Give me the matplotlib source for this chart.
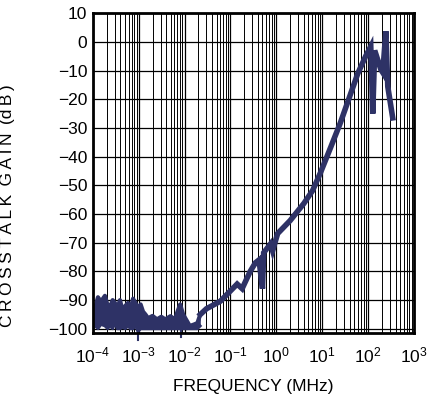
import matplotlib
matplotlib.use("Agg")
import matplotlib.pyplot as plt
from matplotlib.ticker import LogLocator, NullFormatter

plt.rcParams['font.family'] = ['Liberation Sans', 'DejaVu Sans']

NAVY = '#2e3266'

# noise floor band (top / bottom envelope)
freq_noise = [1.0e-4, 1.15e-4, 1.29e-4, 1.5e-4, 1.83e-4, 2.1e-4, 2.36e-4, 2.7e-4, 3.03e-4, 3.4e-4,
              3.9e-4, 4.5e-4, 5.1e-4, 5.8e-4, 6.6e-4, 7.5e-4, 8.5e-4, 9.6e-4, 1.1e-3, 1.24e-3,
              1.4e-3, 1.6e-3, 2.0e-3, 2.5e-3, 3.1e-3, 3.8e-3, 4.9e-3, 6.2e-3, 7.0e-3, 8.0e-3,
              9.3e-3, 1.1e-2, 1.3e-2, 1.6e-2, 1.9e-2, 2.2e-2]
noise_top = [-93.9, -92, -89, -90.5, -88.5, -92, -92.5, -90, -91, -93,
             -90, -94, -92, -91, -93.5, -89.5, -91, -92.8, -91.5, -94,
             -95, -96.3, -95.5, -96.7, -95.8, -96.7, -95.6, -96.7, -94, -91.5,
             -95, -97, -99, -98.5, -98, -95]
noise_bot = [-100, -99, -100, -98.5, -99, -100, -99, -100, -98, -100,
             -100, -99.5, -100, -99, -100, -100, -99, -101, -100, -100,
             -100, -100, -100, -100, -100, -100, -100, -100, -100, -100,
             -100, -100, -100, -100, -100, -99]
# downward spikes below the band
spike_freq = [9.6e-4, 8.3e-3]
spike_low = [-104, -103]

# rising part up to the resonances
freq_rise = [0.022, 0.03, 0.06, 0.14, 0.18, 0.22, 0.27, 0.35, 0.42, 0.50,
             0.53, 0.75, 0.83, 1.07, 2.0, 4.0, 6.2, 9.3, 15.4, 25,
             42, 60, 89, 115, 127, 140, 190, 210, 245, 270,
             346]
gain_rise = [-95, -93, -90.4, -84.4, -86, -83, -80, -77, -76, -86,
             -73.5, -70.4, -72.8, -66.8, -62.3, -56.3, -51.8, -45.4, -36.7, -28.2,
             -18, -11, -5, -1.6, -25, -3, -9.6, -10.7, 3.7, -15.6,
             -26.5]

fig = plt.figure(figsize=(4.32, 3.98), dpi=100)
ax = fig.add_axes([0.215, 0.163, 0.743, 0.804])

ax.fill_between(freq_noise, noise_bot, noise_top, color=NAVY, lw=0, zorder=2)
ax.plot(freq_noise, noise_top, color=NAVY, lw=3)
ax.plot(freq_noise, noise_bot, color=NAVY, lw=2)
for f, lo in zip(spike_freq, spike_low):
    ax.plot([f, f], [-98, lo], color=NAVY, lw=1.5, clip_on=False)
ax.plot(freq_rise, gain_rise, color=NAVY, lw=4, solid_joinstyle='miter')

ax.set_xscale('log')
ax.set_xlim(1e-4, 1e3)
ax.set_ylim(-101.5, 10)
ax.set_yticks(range(-100, 11, 10))
ax.set_xticks([1e-4, 1e-3, 1e-2, 1e-1, 1e0, 1e1, 1e2, 1e3])
ax.xaxis.set_minor_locator(LogLocator(base=10, subs=range(2, 10)))
ax.xaxis.set_minor_formatter(NullFormatter())

ax.grid(True, which='major', color='black', lw=0.9)
ax.grid(True, which='minor', axis='x', color='black', lw=0.7)
ax.tick_params(which='both', length=0, labelsize=12.5)
ax.tick_params(axis='x', pad=9)
ax.tick_params(axis='y', pad=4)
for s in ax.spines.values():
    s.set_linewidth(2)

ax.set_xlabel('FREQUENCY (MHz)', fontsize=12.5, labelpad=10)
ax.set_ylabel('C\u2009R\u2009O\u2009S\u2009S\u2009T\u2009A\u2009L\u2009K\u2009 G\u2009A\u2009I\u2009N\u2009 (d\u2009B\u2009)',
              fontsize=12.5)
ax.yaxis.set_label_coords(-0.243, 0.397)

fig.savefig('out.png', dpi=100)
